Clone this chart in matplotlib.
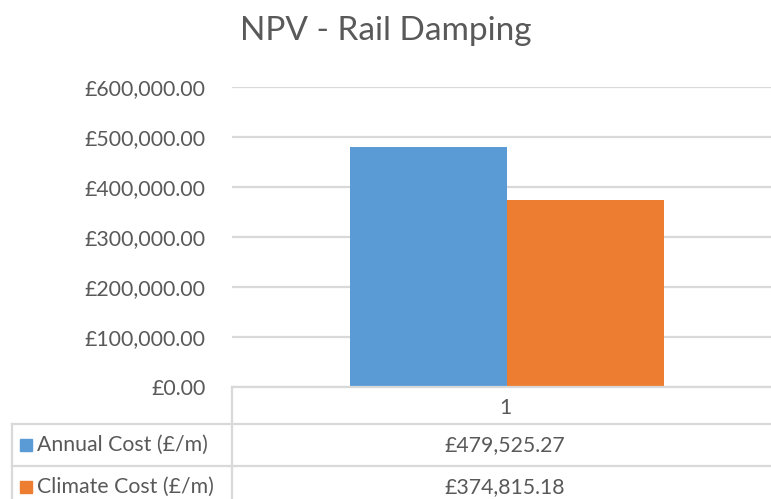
import matplotlib
matplotlib.use("Agg")
import matplotlib.pyplot as plt
from matplotlib.lines import Line2D
from matplotlib.patches import Rectangle

series = ["Annual Cost (£/m)", "Climate Cost (£/m)"]
values = [479525.27, 374815.18]
colors = ["#5b9bd5", "#ed7d31"]
category = "1"
yticks = [0, 100000, 200000, 300000, 400000, 500000, 600000]
title = "NPV - Rail Damping"

W, H = 771, 499
text_col = "#595959"
grid_col = "#d9d9d9"
fs = 15.3
plt.rcParams['font.family'] = ['Lato', 'DejaVu Sans']

fig = plt.figure(figsize=(W / 100, H / 100), dpi=100)

def fx(px):
    return px / W

def fy(py):
    return 1 - py / H

# plot area in pixels
left, right, top, bottom = 232, 771, 87, 387
ax = fig.add_axes([fx(left), fy(bottom), fx(right) - fx(left), fy(top) - fy(bottom)])
full_w = 550.0
ax.set_xlim(-0.5, -0.5 + (right - left) / full_w)
ax.set_ylim(0, 600000)

bw = 157 / full_w
for i, (v, c) in enumerate(zip(values, colors)):
    ax.bar((i - 0.5) * bw, v, width=bw, color=c, zorder=3)

ax.set_yticks(yticks)
ax.set_yticklabels([f"£{t:,.2f}" for t in yticks], color=text_col, fontsize=fs)
ax.tick_params(axis="y", length=0, pad=19)
ax.set_xticks([])
ax.grid(axis="y", color=grid_col, linewidth=1.6, zorder=0)
for s in ax.spines.values():
    s.set_visible(False)

fig.suptitle(title, x=fx(386), y=fy(31), va="center", fontsize=24, color=text_col)

# data table lines
def hline(y, x0, x1):
    fig.add_artist(Line2D([fx(x0), fx(x1)], [fy(y), fy(y)], color=grid_col, lw=1.6))

def vline(x, y0, y1):
    fig.add_artist(Line2D([fx(x), fx(x)], [fy(y0), fy(y1)], color=grid_col, lw=1.6))

hline(bottom, left, W)
hline(424, 12, W)
hline(466, 12, W)
vline(left, bottom, H)
vline(12, 424, H)

cx = fx(505)
fig.text(cx, fy(408), category, ha="center", va="center", fontsize=fs, color=text_col)
row_y = [445, 487]
for name, v, c, ry in zip(series, values, colors, row_y):
    fig.add_artist(Rectangle((fx(20), fy(ry + 6)), fx(12), fy(ry - 6) - fy(ry + 6), color=c, transform=fig.transFigure))
    fig.text(fx(37), fy(ry), name, ha="left", va="center", fontsize=fs, color=text_col)
    fig.text(cx, fy(ry), f"£{v:,.2f}", ha="center", va="center", fontsize=fs, color=text_col)

fig.savefig("out.png", dpi=100, facecolor="white")
